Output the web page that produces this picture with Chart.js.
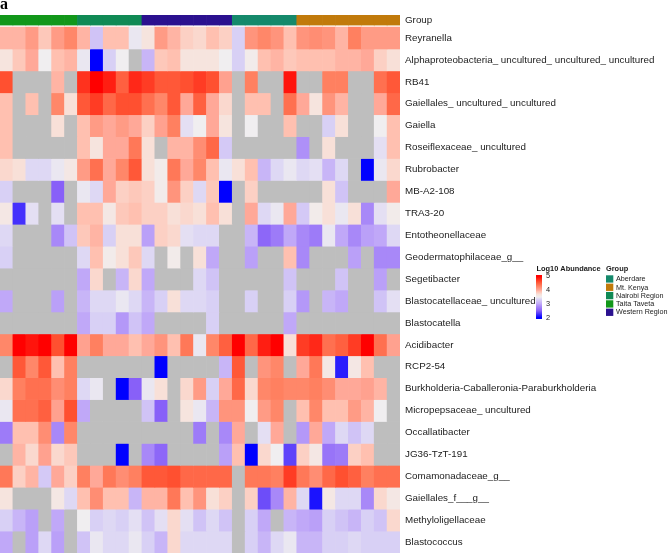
<!DOCTYPE html>
<html>
<head>
<meta charset="utf-8">
<script src="https://cdn.jsdelivr.net/npm/chart.js@4.4.1/dist/chart.umd.min.js"></script>
<style>
html,body{margin:0;padding:0;background:#ffffff;}
canvas{display:block;}
</style>
</head>
<body>
<canvas id="c" width="669" height="557"></canvas>
<script>
// ---------------- DATA ----------------
const sampleIds = ['S1','S2','S3','S4','S5','S6','S7','S8','S9','S10','S11','S12','S13','S14','S15','S16',
  'S17','S18','S19','S20','S21','S22','S23','S24','S25','S26','S27','S28','S29','S30','S31'];

const sampleGroups = [
  'Taita Taveta','Taita Taveta','Taita Taveta','Taita Taveta','Taita Taveta','Taita Taveta',
  'Nairobi Region','Nairobi Region','Nairobi Region','Nairobi Region','Nairobi Region',
  'Western Region','Western Region','Western Region','Western Region','Western Region','Western Region','Western Region',
  'Aberdare','Aberdare','Aberdare','Aberdare','Aberdare',
  'Mt. Kenya','Mt. Kenya','Mt. Kenya','Mt. Kenya','Mt. Kenya','Mt. Kenya','Mt. Kenya','Mt. Kenya'];

const groupNames = ['Aberdare','Mt. Kenya','Nairobi Region','Taita Taveta','Western Region'];

const rowLabels = [
  'Reyranella',
  'Alphaproteobacteria_ uncultured_ uncultured_ uncultured',
  'RB41',
  'Gaiellales_ uncultured_ uncultured',
  'Gaiella',
  'Roseiflexaceae_ uncultured',
  'Rubrobacter',
  'MB-A2-108',
  'TRA3-20',
  'Entotheonellaceae',
  'Geodermatophilaceae_g__',
  'Segetibacter',
  'Blastocatellaceae_ uncultured',
  'Blastocatella',
  'Acidibacter',
  'RCP2-54',
  'Burkholderia-Caballeronia-Paraburkholderia',
  'Micropepsaceae_ uncultured',
  'Occallatibacter',
  'JG36-TzT-191',
  'Comamonadaceae_g__',
  'Gaiellales_f___g__',
  'Methyloligellaceae',
  'Blastococcus'];

// log10 abundance, one list per taxon (row), one value per sample (column); null = not detected
const log10Abundance = [
  [3.95,3.95,4.1,3.85,4.1,4.25, 3.95,3.2,3.9,3.9,3.45, 3.65,4.1,3.95,3.8,3.75,3.9,3.8, 3.3,4.15,4.25,4.15,3.9, 4.15,4.2,4.15,3.95,4.3,4.1,4.1,4.1],
  [3.65,3.85,4.0,3.5,3.9,3.95, 3.45,2.0,3.3,3.5,null, 3.1,3.85,3.9,3.65,3.65,3.65,3.5, 3.3,3.55,3.9,3.95,3.85, 3.9,3.9,3.9,3.95,3.95,4.0,3.8,3.7],
  [4.6,null,null,null,3.95,null, 4.75,5.0,4.85,4.5,4.8, 4.7,4.55,4.55,4.6,4.7,4.6,4.05, null,4.3,null,null,4.9, null,null,4.3,4.3,null,null,4.4,4.55],
  [3.9,null,3.9,null,4.25,3.7, 4.55,4.7,4.45,4.6,4.6, 4.4,4.25,4.55,4.0,4.5,4.0,3.75, null,3.9,3.9,null,4.4, 4.0,3.65,4.15,3.95,null,null,4.0,4.45],
  [3.9,null,null,null,3.7,null, 3.9,4.1,4.0,4.1,4.0, 3.8,4.05,4.3,3.4,3.5,4.0,3.65, null,3.5,null,null,3.9, null,null,3.3,3.7,null,null,3.5,3.9],
  [3.9,null,null,null,null,null, 3.9,3.65,4.0,4.0,4.35, 3.7,null,3.95,3.95,4.2,4.45,3.25, null,null,null,null,null, 2.85,null,3.7,null,null,null,3.4,3.9],
  [3.75,3.7,3.35,3.35,3.45,3.6, 4.1,4.4,4.0,4.25,4.55, 3.7,3.55,4.35,4.0,4.25,3.9,3.45, 3.7,3.9,3.1,3.35,3.45, 3.35,3.4,3.1,3.35,null,2.0,3.45,3.75],
  [3.3,null,null,null,2.5,null, 3.45,3.35,4.0,3.8,3.85, 3.8,3.55,4.15,3.8,3.35,3.85,2.0, null,3.8,null,null,null, null,null,3.7,3.2,null,null,null,4.0],
  [3.6,2.25,3.4,null,3.4,null, 3.9,3.9,3.6,3.85,3.9, 3.8,3.8,3.7,3.75,3.7,3.9,3.7, null,4.0,3.35,3.45,4.0, 3.25,3.55,3.7,3.45,3.7,2.8,3.4,3.55],
  [3.35,null,null,null,2.8,3.2, 3.85,3.95,3.3,3.7,3.7, 2.95,3.8,3.75,3.4,3.35,3.35,null, null,3.1,2.55,2.7,3.0, 2.8,2.7,3.45,3.0,2.8,2.95,3.0,3.35],
  [3.3,null,null,null,null,null, 3.35,3.9,3.55,3.7,3.85, 3.35,null,3.55,null,3.7,3.0,null, null,2.95,null,null,3.9, 2.8,null,null,null,2.95,null,2.8,2.8],
  [null,null,null,null,null,null, 3.0,3.75,null,3.1,3.75, 3.0,null,null,null,3.35,3.2,null, null,null,null,null,3.2, null,null,null,3.2,null,null,2.95,null],
  [3.0,null,null,null,2.95,null, 3.1,3.35,3.35,3.45,3.35, 3.1,3.3,3.7,3.35,3.35,3.3,null, null,3.3,null,null,3.3, 2.9,null,3.1,3.0,null,null,3.2,3.4],
  [null,null,null,null,null,null, 3.0,3.3,3.3,2.9,3.2, 3.0,null,null,null,null,3.3,null, null,null,null,null,3.0, null,null,null,null,null,null,null,null],
  [4.25,5.0,4.9,5.0,4.6,5.0, 4.05,4.3,4.0,4.0,3.9, 4.0,4.15,3.9,4.35,3.45,4.25,4.5, 5.0,4.45,4.85,5.0,3.7, 4.7,4.8,4.4,4.5,4.7,5.0,4.4,4.05],
  [null,4.55,4.25,4.55,3.9,4.3, null,null,null,null,null, null,2.0,null,null,null,null,3.1, 4.55,null,4.15,4.25,null, 4.0,4.35,3.6,2.15,3.6,3.9,null,null],
  [3.75,4.3,4.4,4.4,4.2,4.3, 3.35,3.45,null,2.0,2.5, 3.45,3.7,null,3.75,4.1,3.3,4.0, 4.45,3.75,4.25,4.3,4.25, 4.25,4.3,4.2,4.0,4.0,4.05,3.95,null],
  [3.45,4.4,4.4,4.5,4.05,4.6, 3.0,null,null,null,null, 3.2,2.5,null,3.65,3.45,3.1,4.15, 4.15,3.5,4.1,4.25,null, 3.9,4.25,3.9,3.9,4.1,3.95,3.5,null],
  [2.7,3.9,3.9,4.2,2.8,4.25, null,null,null,null,null, null,null,null,null,2.7,null,2.8, 4.0,null,3.4,4.0,null, 2.9,4.0,3.0,3.35,3.2,3.35,null,null],
  [null,3.95,3.75,4.05,3.75,3.85, null,null,null,2.0,null, 2.8,2.55,null,null,null,null,2.95, 3.9,2.0,3.75,3.5,2.35, 3.8,3.6,2.65,2.7,3.8,3.9,null,null],
  [4.35,3.8,3.95,3.25,4.0,3.8, 4.3,4.0,4.35,4.2,4.3, 4.55,4.55,4.6,4.45,4.45,4.45,4.45, null,4.35,4.35,4.3,4.7, 4.35,4.2,4.45,4.6,4.5,4.3,4.4,4.4],
  [3.65,null,null,null,3.6,3.35, 3.9,4.2,3.9,3.9,3.1, 3.95,3.95,4.35,3.9,4.15,3.7,3.8, null,3.8,2.4,2.8,3.95, 3.35,2.1,3.6,3.35,3.35,2.8,3.75,3.6],
  [3.3,3.1,2.95,null,3.0,null, 3.5,3.3,3.35,3.3,3.4, 3.2,3.4,3.75,3.4,3.2,3.35,3.2, null,3.3,3.0,null,3.1, 3.0,2.95,3.3,3.2,3.1,3.3,3.2,3.75],
  [3.0,null,2.95,3.35,2.95,null, 3.2,3.45,3.35,3.35,3.45, 3.3,3.1,3.75,3.35,3.35,3.35,3.35, null,3.3,3.1,3.35,3.45, 3.1,3.1,3.3,3.3,3.35,3.3,3.3,3.3]
];

const colorbarTicks = [5, 4, 3, 2];

// ---------------- STYLE ----------------
const groupColors = {
  'Aberdare': '#15896b',
  'Mt. Kenya': '#c17a0b',
  'Nairobi Region': '#108a55',
  'Taita Taveta': '#12971a',
  'Western Region': '#2b118f'
};
const naColor = '#bebebe';
const colorStops = [
  [2.0,[0,0,255]],[2.5,[136,96,248]],[2.8,[168,136,248]],[3.0,[192,168,248]],
  [3.3,[216,208,245]],[3.5,[240,238,240]],[3.7,[248,224,216]],[3.9,[255,192,176]],
  [4.0,[255,168,152]],[4.3,[255,128,96]],[4.6,[255,80,48]],[5.0,[255,0,0]]
];
function cellColor(v) {
  if (v === null || v === undefined) return naColor;
  if (v <= colorStops[0][0]) return 'rgb(' + colorStops[0][1].join(',') + ')';
  for (let i = 1; i < colorStops.length; i++) {
    if (v <= colorStops[i][0]) {
      const [v0, c0] = colorStops[i-1], [v1, c1] = colorStops[i];
      const t = (v - v0) / (v1 - v0);
      const c = c0.map((a, k) => Math.round(a + (c1[k] - a) * t));
      return 'rgb(' + c.join(',') + ')';
    }
  }
  return 'rgb(' + colorStops[colorStops.length-1][1].join(',') + ')';
}

const GROUP_TOP = -0.55, GROUP_BOTTOM = -0.09, GROUP_LABEL_POS = -0.3;
const tickValues = [GROUP_LABEL_POS].concat(rowLabels.map((_, r) => r + 0.5));

const common = {barPercentage: 1, categoryPercentage: 1, borderWidth: 0, grouped: false};
const datasets = [];
datasets.push(Object.assign({
  label: 'Group',
  data: sampleIds.map(() => [GROUP_TOP, GROUP_BOTTOM]),
  backgroundColor: sampleGroups.map(g => groupColors[g])
}, common));
rowLabels.forEach((name, r) => {
  datasets.push(Object.assign({
    label: name,
    data: sampleIds.map(() => [r, r + 1]),
    backgroundColor: log10Abundance[r].map(cellColor)
  }, common));
});

const FONT = "'Liberation Sans', Arial, sans-serif";
Chart.defaults.font.family = FONT;

const legendPlugin = {
  id: 'heatLegend',
  afterDraw(chart) {
    const ctx = chart.ctx;
    ctx.save();
    // panel letter
    ctx.fillStyle = '#000';
    ctx.textAlign = 'left';
    ctx.textBaseline = 'alphabetic';
    ctx.font = "bold 16px 'Liberation Serif', 'Times New Roman', serif";
    ctx.fillText('a', 0, 8.5);

    // colour bar legend
    const bx = 536, by = 275, bw = 6, bh = 44;
    const vTop = 5.1, vBot = 1.9;
    const grad = ctx.createLinearGradient(0, by, 0, by + bh);
    for (let i = 0; i <= 64; i++) {
      const t = i / 64;
      grad.addColorStop(t, cellColor(vTop - (vTop - vBot) * t));
    }
    ctx.fillStyle = grad;
    ctx.fillRect(bx, by, bw, bh);
    ctx.fillStyle = '#1a1a1a';
    ctx.font = "bold 7.4px " + FONT;
    ctx.textBaseline = 'middle';
    ctx.fillText('Log10 Abundance', 536.5, 269);
    ctx.font = "7.4px " + FONT;
    colorbarTicks.forEach(v => {
      const y = by + (vTop - v) / (vTop - vBot) * bh;
      ctx.fillText(String(v), 546, y);
    });

    // group legend
    ctx.font = "bold 7.4px " + FONT;
    ctx.fillText('Group', 606, 269);
    ctx.font = "7.2px " + FONT;
    groupNames.forEach((g, i) => {
      const y = 275.3 + i * 8.33;
      ctx.fillStyle = groupColors[g];
      ctx.fillRect(606, y, 7.3, 7.3);
      ctx.fillStyle = '#1a1a1a';
      ctx.fillText(g, 616, y + 3.9);
    });
    ctx.restore();
  }
};

new Chart(document.getElementById('c'), {
  type: 'bar',
  data: {labels: sampleIds, datasets: datasets},
  options: {
    responsive: false,
    animation: false,
    devicePixelRatio: 1,
    layout: {padding: {top: 15, bottom: 4, left: 0, right: 0}, autoPadding: false},
    plugins: {legend: {display: false}, tooltip: {enabled: false}},
    scales: {
      x: {type: 'category', display: false, offset: true, grid: {display: false}},
      y: {
        type: 'linear', position: 'right', reverse: true,
        min: GROUP_TOP, max: rowLabels.length,
        grid: {display: false, drawTicks: false},
        border: {display: false},
        ticks: {
          autoSkip: false, padding: 5, color: '#222',
          font: {size: 9.8, family: FONT},
          callback: (v) => v < 0 ? 'Group' : rowLabels[Math.floor(v)]
        },
        afterBuildTicks: (s) => { s.ticks = tickValues.map(v => ({value: v})); },
        afterFit: (s) => { s.width = 669 - 400; s.paddingTop = 0; s.paddingBottom = 0; }
      }
    }
  },
  plugins: [legendPlugin]
});
</script>
</body>
</html>
